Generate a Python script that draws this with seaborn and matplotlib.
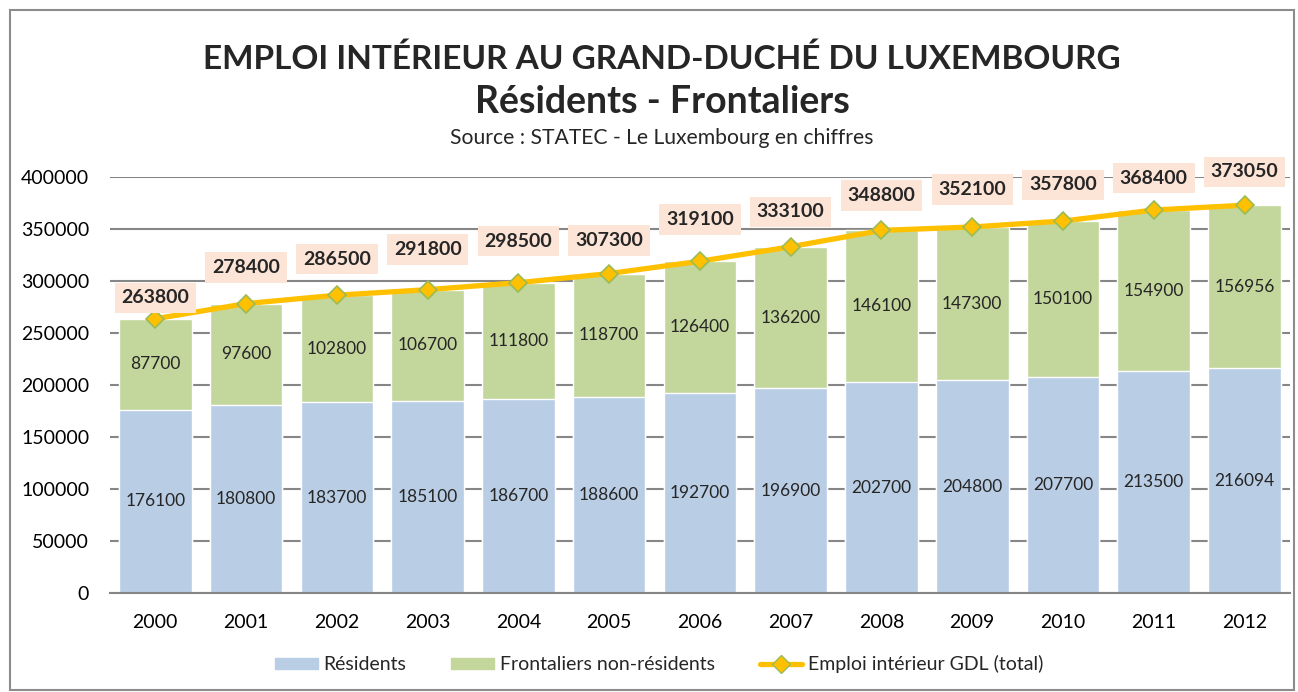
import seaborn as sns
import matplotlib.pyplot as plt
import pandas as pd
from matplotlib.patches import Patch, Rectangle
from matplotlib.lines import Line2D

# Données (STATEC)
annees = ["2000", "2001", "2002", "2003", "2004", "2005", "2006",
          "2007", "2008", "2009", "2010", "2011", "2012"]
residents = [176100, 180800, 183700, 185100, 186700, 188600, 192700,
             196900, 202700, 204800, 207700, 213500, 216094]
frontaliers = [87700, 97600, 102800, 106700, 111800, 118700, 126400,
               136200, 146100, 147300, 150100, 154900, 156956]
total = [263800, 278400, 286500, 291800, 298500, 307300, 319100,
         333100, 348800, 352100, 357800, 368400, 373050]

# décalage vertical des étiquettes du total (points)
label_dy = [15, 26, 26, 29, 30, 24, 30, 25, 25, 27, 26, 23, 24]

bleu = "#B9CDE5"
vert = "#C3D69B"
jaune = "#FFC000"
peche = "#FCE4D6"

df = pd.DataFrame({"annee": annees, "residents": residents,
                   "frontaliers": frontaliers, "total": total})

sns.set_style("white")
plt.rcParams["font.family"] = ["Lato", "DejaVu Sans"]

fig = plt.figure(figsize=(12.98, 6.92), dpi=100)
ax = fig.add_axes([0.0847, 0.143, 0.9091, 0.601])

# barres empilées : total (vert) puis résidents (bleu) par-dessus
sns.barplot(data=df, x="annee", y="total", color=vert, width=0.8,
            saturation=1, ax=ax, zorder=2)
sns.barplot(data=df, x="annee", y="residents", color=bleu, width=0.8,
            saturation=1, ax=ax, zorder=2)

# courbe du total
sns.pointplot(data=df, x="annee", y="total", color=jaune, markers="D",
              linestyles="-", ax=ax, zorder=4, linewidth=3.8,
              markersize=9, markeredgecolor="#9BBB59", markeredgewidth=1.2)

ax.set_ylim(0, 400000)
ax.set_xlim(-0.5, len(annees) - 0.5)
ax.set_yticks(range(0, 400001, 50000))
ax.yaxis.grid(True, color="#868686", linewidth=1.5, zorder=0)
ax.set_axisbelow(True)
for s in ["left", "right", "top"]:
    ax.spines[s].set_visible(False)
ax.spines["bottom"].set_color("#868686")
ax.spines["bottom"].set_linewidth(1.5)
ax.tick_params(axis="both", length=0, labelsize=14, colors="black")
ax.tick_params(axis="y", pad=15)
ax.tick_params(axis="x", pad=15)
ax.set_xlabel("")
ax.set_ylabel("")

# étiquettes dans les barres
for i in range(len(annees)):
    ax.text(i, residents[i] / 2, str(residents[i]), ha="center",
            va="center", fontsize=12.5, zorder=5)
    ax.text(i, residents[i] + frontaliers[i] / 2, str(frontaliers[i]),
            ha="center", va="center", fontsize=12.5, zorder=5)
    ax.annotate(str(total[i]), (i, total[i]), xytext=(0, label_dy[i]),
                textcoords="offset points", ha="center", va="center",
                fontsize=14, fontweight="bold", zorder=6, annotation_clip=False,
                bbox=dict(boxstyle="square,pad=0.35", fc=peche, ec="none"))

# titres
fig.text(0.51, 0.915, "EMPLOI INTÉRIEUR AU GRAND-DUCHÉ DU LUXEMBOURG",
         ha="center", va="center", fontsize=24, fontweight="bold")
fig.text(0.51, 0.853, "Résidents - Frontaliers", ha="center", va="center",
         fontsize=27, fontweight="bold")
fig.text(0.51, 0.800, "Source : STATEC - Le Luxembourg en chiffres",
         ha="center", va="center", fontsize=15.2)

# légende
handles = [Patch(color=bleu, label="Résidents"),
           Patch(color=vert, label="Frontaliers non-résidents"),
           Line2D([], [], color=jaune, linewidth=3.8, marker="D",
                  markersize=9, markeredgecolor="#9BBB59",
                  label="Emploi intérieur GDL (total)")]
fig.legend(handles=handles, loc="center", bbox_to_anchor=(0.508, 0.04),
           ncol=3, frameon=False, fontsize=14, handlelength=2.2,
           handleheight=0.55, columnspacing=2.3, handletextpad=0.3)

# cadre
fig.patches.append(Rectangle((0.008, 0.003), 0.989, 0.982,
                             transform=fig.transFigure, fill=False,
                             ec="#8C8C8C", lw=1.5))

fig.savefig("out.png", dpi=100)
